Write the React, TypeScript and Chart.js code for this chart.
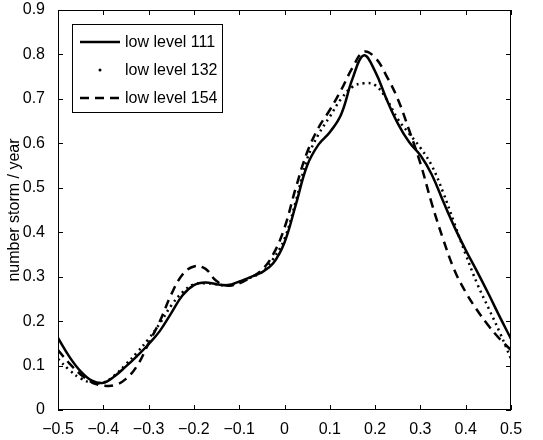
import React, { useEffect, useRef } from "react";
import { Chart, registerables } from "chart.js";

Chart.register(...registerables);

const xValues = [
  -0.5, -0.475, -0.45, -0.425, -0.4, -0.375, -0.35, -0.325, -0.3, -0.275, -0.25,
  -0.225, -0.2, -0.175, -0.15, -0.125, -0.1, -0.075, -0.05, -0.025, 0,
  0.025, 0.05, 0.075, 0.1, 0.125, 0.15, 0.175, 0.2, 0.225, 0.25,
  0.275, 0.3, 0.325, 0.35, 0.375, 0.4, 0.425, 0.45, 0.475, 0.5,
];

const level111 = [
  0.162, 0.12, 0.087, 0.066, 0.061, 0.076, 0.098, 0.122, 0.148, 0.178, 0.218,
  0.258, 0.281, 0.287, 0.283, 0.281, 0.289, 0.299, 0.31, 0.33, 0.377,
  0.462, 0.55, 0.597, 0.625, 0.665, 0.745, 0.798, 0.762, 0.7, 0.645,
  0.603, 0.573, 0.53, 0.47, 0.412, 0.36, 0.312, 0.262, 0.21, 0.16,
];

const level132 = [
  0.115, 0.09, 0.071, 0.061, 0.062, 0.078, 0.103, 0.13, 0.16, 0.195, 0.235,
  0.265, 0.283, 0.285, 0.283, 0.28, 0.288, 0.298, 0.31, 0.34, 0.385,
  0.47, 0.565, 0.62, 0.66, 0.7, 0.727, 0.735, 0.731, 0.7, 0.655,
  0.622, 0.59, 0.55, 0.49, 0.42, 0.35, 0.285, 0.23, 0.175, 0.115,
];

const level154 = [
  0.135, 0.105, 0.08, 0.062, 0.055, 0.056, 0.07, 0.1, 0.15, 0.2, 0.26,
  0.305, 0.323, 0.318, 0.29, 0.28, 0.285, 0.298, 0.315, 0.35, 0.41,
  0.5, 0.58, 0.635, 0.675, 0.72, 0.77, 0.806, 0.793, 0.752, 0.7,
  0.63, 0.555, 0.465, 0.385, 0.315, 0.265, 0.225, 0.19, 0.16, 0.135,
];

const seriesLabels = ["low level 111", "low level 132", "low level 154"];
const yAxisTitle = "number storm / year";

const FONT = "'Liberation Sans', Arial, Helvetica, sans-serif";

function fmt(v: number): string {
  const r = Math.round(v * 10) / 10;
  if (Math.abs(r) < 1e-9) return "0";
  const s = Math.abs(r).toFixed(1);
  return r < 0 ? "\u2212" + s : s;
}

const frameAndLegend = {
  id: "frameAndLegend",
  afterDraw(chart: any) {
    const ctx = chart.ctx as CanvasRenderingContext2D;
    const { left, right, top, bottom } = chart.chartArea;
    const xs = chart.scales.x;
    const ys = chart.scales.y;
    ctx.save();
    ctx.strokeStyle = "#000";
    ctx.lineWidth = 1;
    ctx.setLineDash([]);
    ctx.strokeRect(left + 0.5, top + 0.5, right - left - 1, bottom - top - 1);
    const tl = 5;
    ctx.beginPath();
    xs.ticks.forEach((t: any) => {
      const px = Math.round(xs.getPixelForValue(t.value)) + 0.5;
      ctx.moveTo(px, bottom);
      ctx.lineTo(px, bottom - tl);
      ctx.moveTo(px, top);
      ctx.lineTo(px, top + tl);
    });
    ys.ticks.forEach((t: any) => {
      const py = Math.round(ys.getPixelForValue(t.value)) + 0.5;
      ctx.moveTo(left, py);
      ctx.lineTo(left + tl, py);
      ctx.moveTo(right, py);
      ctx.lineTo(right - tl, py);
    });
    ctx.stroke();

    // legend box
    const bx = left + 14;
    const by = top + 14;
    const bw = 150;
    const bh = 88;
    ctx.fillStyle = "#fff";
    ctx.fillRect(bx, by, bw, bh);
    ctx.strokeStyle = "#000";
    ctx.lineWidth = 1;
    ctx.strokeRect(bx + 0.5, by + 0.5, bw, bh);
    const rows = [by + 18, by + 46, by + 74];
    ctx.font = "16px " + FONT;
    ctx.textBaseline = "middle";
    ctx.textAlign = "left";
    chart.data.datasets.forEach((ds: any, i: number) => {
      const y = rows[i];
      const x0 = bx + 8;
      const x1 = bx + 48;
      ctx.strokeStyle = "#000";
      ctx.fillStyle = "#000";
      ctx.lineWidth = 2.5;
      if (i === 1) {
        ctx.beginPath();
        ctx.arc((x0 + x1) / 2, y, 1.5, 0, Math.PI * 2);
        ctx.fill();
      } else {
        ctx.setLineDash(ds.borderDash || []);
        ctx.beginPath();
        ctx.moveTo(x0, y);
        ctx.lineTo(x1, y);
        ctx.stroke();
        ctx.setLineDash([]);
      }
      ctx.fillText(ds.label, bx + 53, y + 1);
    });
    ctx.restore();
  },
};

export default function App() {
  const ref = useRef<HTMLCanvasElement | null>(null);
  useEffect(() => {
    if (!ref.current) return;
    const mk = (arr: number[]) => xValues.map((x, i) => ({ x, y: arr[i] }));
    const common = {
      borderColor: "#000",
      borderWidth: 2.5,
      pointRadius: 0,
      tension: 0.4,
      fill: false,
    };
    const chart = new Chart(ref.current, {
      type: "line",
      data: {
        datasets: [
          { ...common, label: seriesLabels[0], data: mk(level111) },
          { ...common, label: seriesLabels[1], data: mk(level132), borderDash: [2, 4] },
          { ...common, label: seriesLabels[2], data: mk(level154), borderDash: [9, 6] },
        ],
      },
      options: {
        animation: false,
        responsive: false,
        maintainAspectRatio: false,
        layout: { padding: { top: 10, right: 32, bottom: 0, left: 0 } },
        plugins: {
          legend: { display: false },
          tooltip: { enabled: false },
          title: { display: false },
        },
        scales: {
          x: {
            type: "linear",
            min: -0.5,
            max: 0.5,
            grid: { display: false },
            border: { display: false },
            ticks: {
              stepSize: 0.1,
              color: "#000",
              padding: 2,
              maxRotation: 0,
              autoSkip: false,
              font: { family: FONT, size: 16 },
              callback: (v: any) => fmt(Number(v)),
            },
            afterFit: (s: any) => {
              s.height = 30;
              s.paddingLeft = 0;
              s.paddingRight = 0;
            },
          },
          y: {
            type: "linear",
            min: 0,
            max: 0.9,
            grid: { display: false },
            border: { display: false },
            ticks: {
              stepSize: 0.1,
              color: "#000",
              padding: 5,
              autoSkip: false,
              font: { family: FONT, size: 16 },
              callback: (v: any) => fmt(Number(v)),
            },
            title: {
              display: true,
              text: yAxisTitle,
              color: "#000",
              font: { family: FONT, size: 16 },
              padding: { top: 5, bottom: 0 },
            },
            afterFit: (s: any) => {
              s.width = 58;
              s.paddingTop = 0;
              s.paddingBottom = 0;
            },
          },
        },
      },
      plugins: [frameAndLegend],
    });
    return () => chart.destroy();
  }, []);
  return (
    <div style={{ position: "fixed", left: 0, top: 0, width: 543, height: 440, background: "#fff" }}>
      <canvas ref={ref} width={543} height={440} style={{ width: 543, height: 440, display: "block" }} />
    </div>
  );
}
